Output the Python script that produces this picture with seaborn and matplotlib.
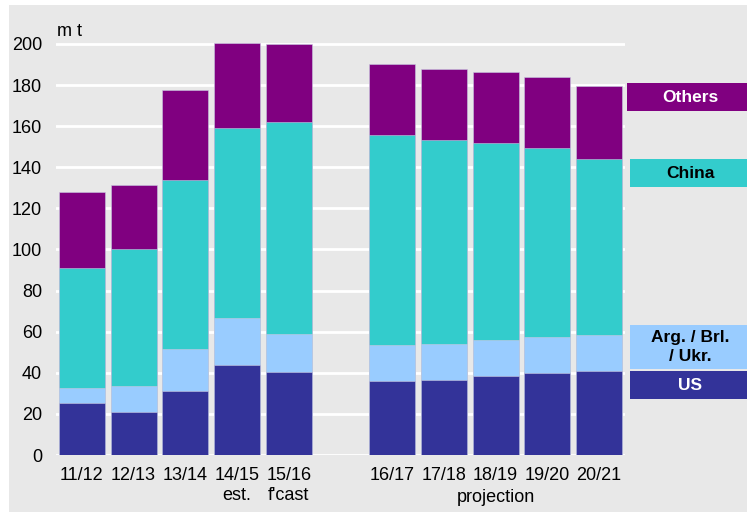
import numpy as np
import pandas as pd
import matplotlib
matplotlib.use('Agg')
import matplotlib.pyplot as plt
from matplotlib.patches import Rectangle
import seaborn as sns

# values (m t)
seasons = ['11/12', '12/13', '13/14', '14/15', '15/16',
           '16/17', '17/18', '18/19', '19/20', '20/21']
us = [25.1, 20.9, 31.1, 43.8, 40.5, 36.0, 36.5, 38.4, 39.9, 41.0]
arg_brl_ukr = [7.5, 12.6, 20.4, 22.8, 18.2, 17.6, 17.5, 17.5, 17.5, 17.3]
china = [58.5, 66.8, 82.2, 92.4, 103.5, 102.0, 99.5, 96.0, 91.9, 85.6]
others = [37.1, 31.1, 44.1, 41.3, 37.8, 34.7, 34.3, 34.6, 34.7, 35.8]

tick_labels = ['11/12', '12/13', '13/14', '14/15\nest.', "15/16\nf'cast", '',
               '16/17', '17/18', '18/19', '19/20', '20/21']
order = seasons[:5] + [' '] + seasons[5:]

colors = {'US': '#333399', 'Arg': '#99CCFF', 'China': '#33CCCC', 'Others': '#800080'}

df = pd.DataFrame({'season': seasons, 'US': us, 'Arg': arg_brl_ukr,
                   'China': china, 'Others': others})
df['lvl_us'] = df['US']
df['lvl_arg'] = df['lvl_us'] + df['Arg']
df['lvl_china'] = df['lvl_arg'] + df['China']
df['lvl_others'] = df['lvl_china'] + df['Others']

plt.rcParams['font.family'] = ['Liberation Sans', 'DejaVu Sans']

fig = plt.figure(figsize=(7.47, 5.12), dpi=100)
fig.patch.set_facecolor('white')
fig.patches.append(Rectangle((9 / 747, 0), 1, 1 - 5 / 512, transform=fig.transFigure,
                             facecolor='#E8E8E8', edgecolor='none', zorder=-10))

ax = fig.add_axes([56 / 747, 57 / 512, (625 - 56) / 747, (455 - 33.7) / 512])
ax.set_facecolor('#E8E8E8')

for col, key in [('lvl_others', 'Others'), ('lvl_china', 'China'),
                 ('lvl_arg', 'Arg'), ('lvl_us', 'US')]:
    sns.barplot(data=df, x='season', y=col, order=order, color=colors[key],
                saturation=1, width=0.89, errorbar=None, ax=ax,
                edgecolor='#c8c8e0', linewidth=0.4, zorder=3)

ax.set_xlim(-0.5, 10.5)
ax.set_ylim(0, 205)
ax.set_yticks(np.arange(0, 201, 20))
ax.set_xticks(range(len(tick_labels)))
ax.set_xticklabels(tick_labels, fontsize=13, linespacing=1.2)
ax.tick_params(axis='y', labelsize=13, length=0, pad=10)
ax.tick_params(axis='x', length=0, pad=9)
ax.set_xlabel('')
ax.set_ylabel('')
ax.grid(axis='y', color='white', linewidth=2, zorder=0)
ax.set_axisbelow(True)
for s in ax.spines.values():
    s.set_visible(False)

ax.text(8, -0.1, 'projection', transform=ax.get_xaxis_transform(),
        ha='center', va='center', fontsize=13)
fig.text(57 / 747, 1 - 31 / 512, 'm t', fontsize=13, va='center')

# legend boxes on the right
boxes = [('Others', 627, 83, 111, 'white', 'Others'),
         ('China', 630, 159, 187, 'black', 'China'),
         ('Arg', 630, 325, 369, 'black', 'Arg. / Brl.\n/ Ukr.'),
         ('US', 630, 371, 399, 'white', 'US')]
for key, x0, y0, y1, tc, label in boxes:
    fig.patches.append(Rectangle((x0 / 747, 1 - y1 / 512), (747 - x0) / 747, (y1 - y0) / 512,
                                 transform=fig.transFigure, facecolor=colors[key],
                                 edgecolor='none', zorder=1))
    fig.text(690 / 747, 1 - (y0 + y1) / 2 / 512, label, color=tc, fontsize=12.5,
             fontweight='bold', ha='center', va='center', linespacing=1.3)

fig.savefig('out.png', dpi=100)
